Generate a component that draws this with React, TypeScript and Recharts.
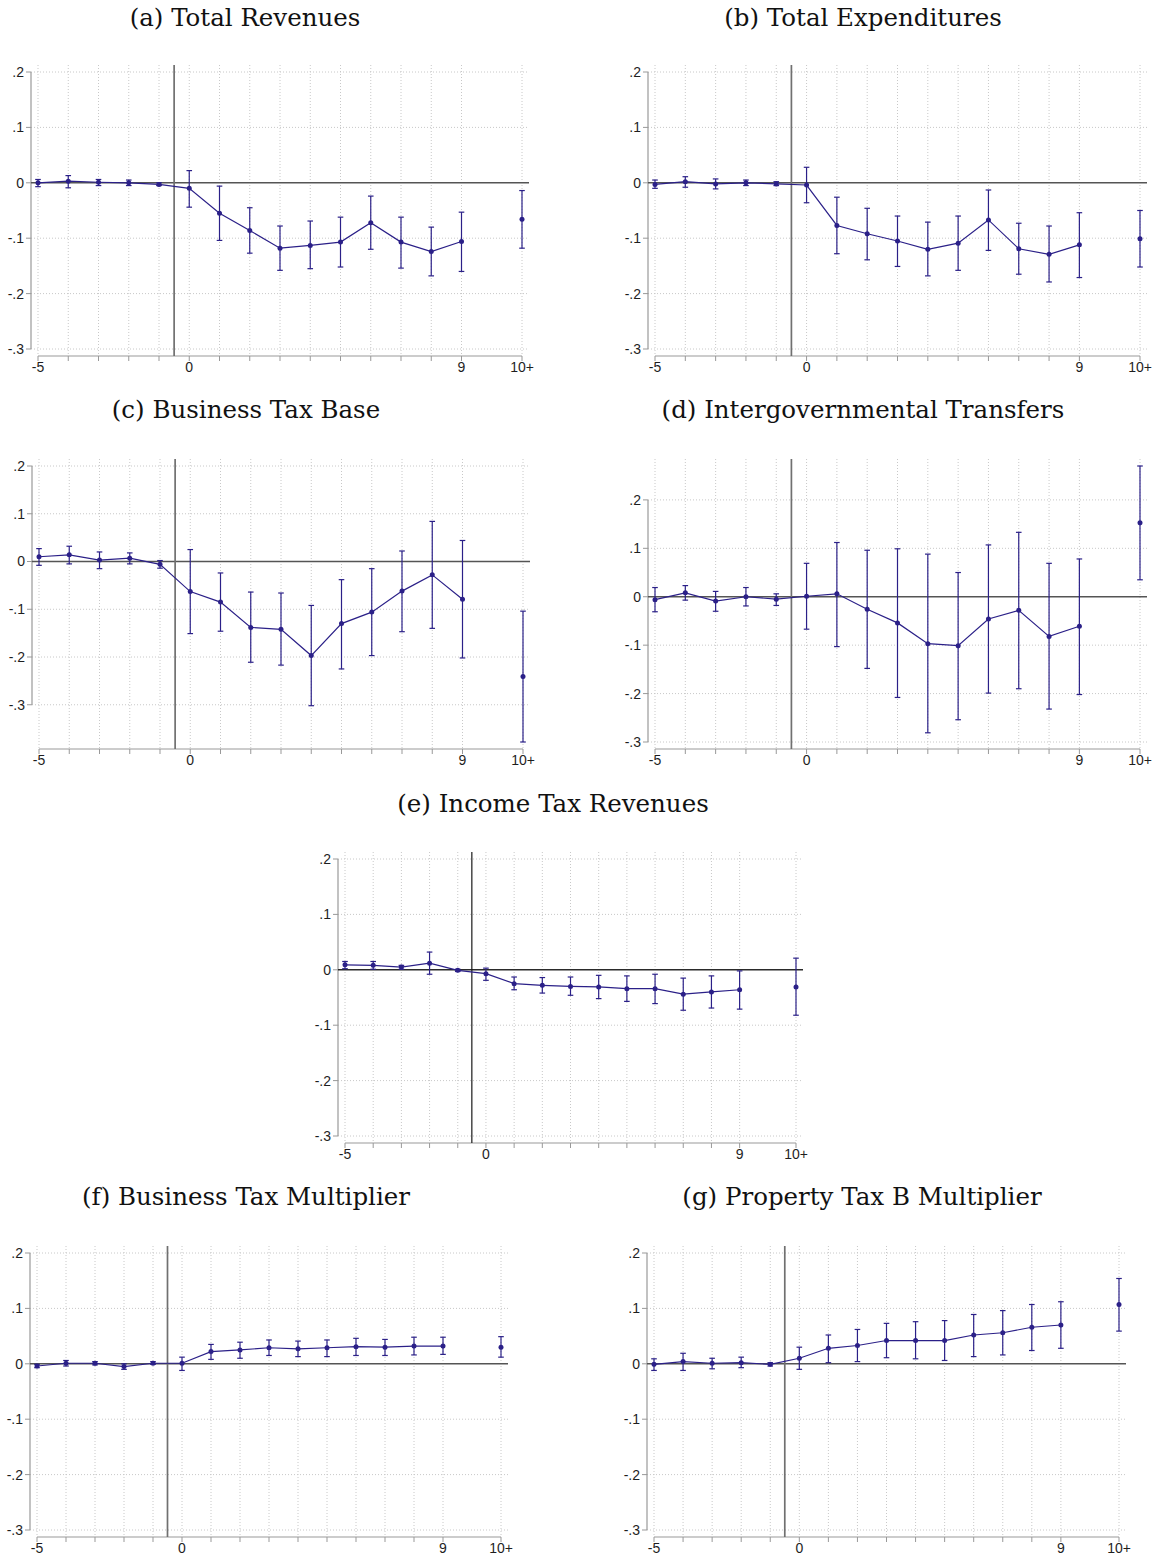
import React from 'react'
import {
  ComposedChart,
  Line,
  XAxis,
  YAxis,
  CartesianGrid,
  ReferenceLine,
  ErrorBar,
} from 'recharts'

// event time -5..9, plus the binned "10+" coefficient plotted at 11
const EVENT_TIME = [-5, -4, -3, -2, -1, 0, 1, 2, 3, 4, 5, 6, 7, 8, 9]
const LATE_TIME = 11
const X_TICKS = [-5, -4, -3, -2, -1, 0, 1, 2, 3, 4, 5, 6, 7, 8, 9, 11]
const X_LABELS: Record<number, string> = { [-5]: '-5', 0: '0', 9: '9', 11: '10+' }
const Y_TICKS = [-0.3, -0.2, -0.1, 0, 0.1, 0.2]
const Y_GRID = [-0.3, -0.2, -0.1, 0.1, 0.2]

// (a) Total Revenues
const revEst = [0.0, 0.003, 0.001, 0.0, -0.003, -0.01, -0.055, -0.086, -0.118, -0.113, -0.107, -0.072, -0.107, -0.124, -0.106, -0.066]
const revLo = [-0.007, -0.009, -0.005, -0.005, -0.005, -0.044, -0.104, -0.127, -0.158, -0.155, -0.152, -0.12, -0.154, -0.168, -0.16, -0.118]
const revHi = [0.006, 0.013, 0.006, 0.005, 0.0, 0.022, -0.006, -0.045, -0.078, -0.069, -0.062, -0.024, -0.062, -0.08, -0.053, -0.014]

// (b) Total Expenditures
const expEst = [-0.003, 0.002, -0.002, 0.0, -0.002, -0.004, -0.077, -0.092, -0.105, -0.12, -0.109, -0.067, -0.119, -0.129, -0.112, -0.101]
const expLo = [-0.01, -0.008, -0.011, -0.005, -0.005, -0.036, -0.128, -0.139, -0.151, -0.168, -0.158, -0.122, -0.165, -0.179, -0.171, -0.152]
const expHi = [0.005, 0.011, 0.007, 0.005, 0.002, 0.028, -0.026, -0.046, -0.06, -0.071, -0.06, -0.013, -0.073, -0.078, -0.054, -0.05]

// (c) Business Tax Base
const baseEst = [0.01, 0.014, 0.003, 0.007, -0.006, -0.063, -0.085, -0.138, -0.142, -0.197, -0.13, -0.106, -0.062, -0.028, -0.079, -0.241]
const baseLo = [-0.008, -0.005, -0.015, -0.005, -0.014, -0.151, -0.146, -0.211, -0.217, -0.302, -0.225, -0.197, -0.147, -0.14, -0.202, -0.378]
const baseHi = [0.027, 0.032, 0.02, 0.018, 0.002, 0.025, -0.024, -0.064, -0.066, -0.092, -0.038, -0.015, 0.022, 0.084, 0.044, -0.104]

// (d) Intergovernmental Transfers
const trEst = [-0.006, 0.008, -0.009, 0.0, -0.005, 0.001, 0.006, -0.026, -0.054, -0.097, -0.101, -0.046, -0.028, -0.082, -0.061, 0.153]
const trLo = [-0.031, -0.007, -0.03, -0.019, -0.018, -0.067, -0.103, -0.148, -0.208, -0.281, -0.254, -0.199, -0.19, -0.232, -0.202, 0.035]
const trHi = [0.019, 0.023, 0.011, 0.019, 0.006, 0.069, 0.112, 0.096, 0.099, 0.088, 0.05, 0.107, 0.133, 0.069, 0.078, 0.27]

// (e) Income Tax Revenues
const incEst = [0.009, 0.008, 0.005, 0.012, -0.001, -0.007, -0.025, -0.028, -0.03, -0.031, -0.034, -0.034, -0.044, -0.04, -0.036, -0.031]
const incLo = [0.002, 0.001, 0.001, -0.008, -0.003, -0.019, -0.036, -0.042, -0.046, -0.052, -0.057, -0.061, -0.073, -0.069, -0.071, -0.082]
const incHi = [0.015, 0.015, 0.008, 0.032, 0.001, 0.003, -0.013, -0.014, -0.013, -0.01, -0.011, -0.008, -0.015, -0.011, -0.002, 0.021]

// (f) Business Tax Multiplier
const btmEst = [-0.004, 0.001, 0.001, -0.005, 0.001, 0.001, 0.022, 0.025, 0.029, 0.027, 0.029, 0.031, 0.03, 0.032, 0.032, 0.03]
const btmLo = [-0.007, -0.004, -0.002, -0.01, -0.001, -0.012, 0.008, 0.01, 0.015, 0.013, 0.013, 0.015, 0.015, 0.016, 0.017, 0.012]
const btmHi = [-0.001, 0.006, 0.004, 0.0, 0.004, 0.012, 0.035, 0.039, 0.043, 0.041, 0.043, 0.046, 0.044, 0.048, 0.048, 0.049]

// (g) Property Tax B Multiplier
const ptmEst = [-0.001, 0.004, 0.001, 0.002, -0.001, 0.01, 0.028, 0.033, 0.042, 0.042, 0.042, 0.052, 0.056, 0.066, 0.07, 0.107]
const ptmLo = [-0.012, -0.012, -0.009, -0.007, -0.004, -0.01, 0.002, 0.004, 0.011, 0.009, 0.006, 0.013, 0.016, 0.024, 0.028, 0.059]
const ptmHi = [0.009, 0.019, 0.01, 0.012, 0.002, 0.03, 0.052, 0.062, 0.073, 0.076, 0.078, 0.089, 0.096, 0.107, 0.112, 0.154]

const MARK = '#2b2088'
const AXIS_GRAY = '#999'
const GRID_GRAY = '#c8c8c8'
const TICK_FONT = { fontSize: 14, fill: '#1e1e1e', fontFamily: 'Liberation Sans, Arial, sans-serif' }
const Y_AXIS_W = 40
const X_AXIS_H = 26
const PAD = 7

type Panel = {
  title: string
  est: number[]
  lo: number[]
  hi: number[]
  left: number
  top: number
  plotW: number
  plotH: number
  titleX: number
  titleY: number
  dark?: boolean
}

const panels: Panel[] = [
  { title: '(a) Total Revenues', est: revEst, lo: revLo, hi: revHi, left: 31, top: 65, plotW: 498, plotH: 291, titleX: 245, titleY: 18 },
  { title: '(b) Total Expenditures', est: expEst, lo: expLo, hi: expHi, left: 648, top: 65, plotW: 499, plotH: 291, titleX: 863, titleY: 18 },
  { title: '(c) Business Tax Base', est: baseEst, lo: baseLo, hi: baseHi, left: 31.5, top: 459, plotW: 498, plotH: 290, titleX: 246, titleY: 410 },
  { title: '(d) Intergovernmental Transfers', est: trEst, lo: trLo, hi: trHi, left: 648, top: 459, plotW: 499, plotH: 290, titleX: 863, titleY: 410 },
  { title: '(e) Income Tax Revenues', est: incEst, lo: incLo, hi: incHi, left: 337.5, top: 852, plotW: 465, plotH: 291, titleX: 553, titleY: 804, dark: true },
  { title: '(f) Business Tax Multiplier', est: btmEst, lo: btmLo, hi: btmHi, left: 30, top: 1246, plotW: 478, plotH: 291, titleX: 246, titleY: 1197 },
  { title: '(g) Property Tax B Multiplier', est: ptmEst, lo: ptmLo, hi: ptmHi, left: 647, top: 1246, plotW: 479, plotH: 291, titleX: 862, titleY: 1197 },
]

const fmtY = (v: number) => {
  if (Math.abs(v) < 1e-9) return '0'
  return (v < 0 ? '-' : '') + '.' + Math.round(Math.abs(v) * 10)
}

function EventStudy({ p }: { p: Panel }) {
  const n = EVENT_TIME.length
  const rows = EVENT_TIME.map((t, i) => ({ t, b: p.est[i], ci: [p.est[i] - p.lo[i], p.hi[i] - p.est[i]] }))
  const late = [{ t: LATE_TIME, b: p.est[n], ci: [p.est[n] - p.lo[n], p.hi[n] - p.est[n]] }]

  // Stata-style plot region: data range plus a few pixels on every side
  const xPad = (16 * PAD) / (p.plotW - 2 * PAD)
  const xDomain: [number, number] = [-5 - xPad, 11 + xPad]
  const yMin = Math.min(-0.3, ...p.lo)
  const yMax = Math.max(0.2, ...p.hi)
  const yPad = ((yMax - yMin) * PAD) / (p.plotH - 2 * PAD)
  const yDomain: [number, number] = [yMin - yPad, yMax + yPad]

  const dot = { r: 2.5, fill: MARK, stroke: MARK, strokeWidth: 0 }

  return (
    <>
      <div
        style={{
          position: 'absolute',
          left: p.titleX - 300,
          top: p.titleY - 16,
          width: 600,
          textAlign: 'center',
          fontFamily: 'DejaVu Serif, serif',
          fontSize: 24.5,
          lineHeight: '32px',
          color: '#111',
        }}
      >
        {p.title}
      </div>
      <div style={{ position: 'absolute', left: p.left - Y_AXIS_W, top: p.top }}>
        <ComposedChart
          width={Y_AXIS_W + p.plotW + 8}
          height={p.plotH + X_AXIS_H}
          margin={{ top: 0, right: 8, bottom: 0, left: 0 }}
        >
          <CartesianGrid
            stroke={GRID_GRAY}
            strokeDasharray="1 2"
            horizontalValues={Y_GRID}
            verticalValues={X_TICKS}
          />
          <XAxis
            type="number"
            dataKey="t"
            domain={xDomain}
            allowDataOverflow
            ticks={X_TICKS}
            interval={0}
            tickFormatter={(v: number) => X_LABELS[v] ?? ''}
            axisLine={false}
            tickLine={{ stroke: AXIS_GRAY }}
            tickSize={5}
            tickMargin={1}
            height={X_AXIS_H}
            tick={TICK_FONT}
          />
          <YAxis
            type="number"
            domain={yDomain}
            allowDataOverflow
            ticks={Y_TICKS}
            interval={0}
            tickFormatter={fmtY}
            axisLine={false}
            tickLine={{ stroke: AXIS_GRAY }}
            tickSize={5}
            tickMargin={2}
            width={Y_AXIS_W}
            tick={TICK_FONT}
          />
          <ReferenceLine
            segment={[{ x: xDomain[0], y: -0.3 }, { x: xDomain[0], y: 0.2 }]}
            stroke={AXIS_GRAY}
            strokeWidth={1.2}
          />
          <ReferenceLine
            segment={[{ x: -5, y: yDomain[0] }, { x: 11, y: yDomain[0] }]}
            stroke={AXIS_GRAY}
            strokeWidth={1.2}
          />
          <ReferenceLine y={0} stroke={p.dark ? '#2a2a2a' : '#555'} strokeWidth={1.4} />
          <ReferenceLine x={-0.5} stroke={p.dark ? '#1a1a1a' : '#707070'} strokeWidth={p.dark ? 1.2 : 1.7} />
          <Line
            data={rows}
            dataKey="b"
            stroke={MARK}
            strokeWidth={1.2}
            dot={dot}
            activeDot={false}
            isAnimationActive={false}
          >
            <ErrorBar dataKey="ci" width={2.8} stroke={MARK} strokeWidth={1.2} />
          </Line>
          <Line
            data={late}
            dataKey="b"
            stroke={MARK}
            strokeWidth={1.2}
            dot={dot}
            activeDot={false}
            isAnimationActive={false}
          >
            <ErrorBar dataKey="ci" width={2.8} stroke={MARK} strokeWidth={1.2} />
          </Line>
        </ComposedChart>
      </div>
    </>
  )
}

export default function App() {
  return (
    <div
      style={{
        position: 'absolute',
        left: 0,
        top: 0,
        width: 1162,
        height: 1561,
        background: '#fff',
        overflow: 'hidden',
      }}
    >
      {panels.map((p) => (
        <EventStudy key={p.title} p={p} />
      ))}
    </div>
  )
}
